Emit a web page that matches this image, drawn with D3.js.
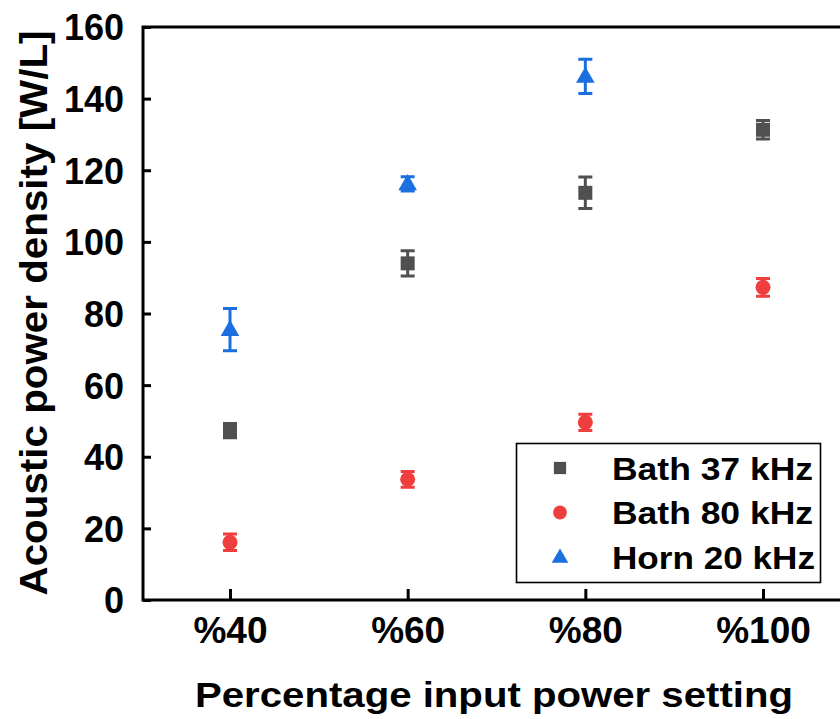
<!DOCTYPE html>
<html>
<head>
<meta charset="utf-8">
<script src="https://cdn.jsdelivr.net/npm/d3@7"></script>
<style>
  html, body { margin: 0; padding: 0; background: #fff; }
  svg { display: block; }
  text { font-family: "Liberation Sans", Arial, Helvetica, sans-serif; font-weight: bold; }
</style>
</head>
<body>
<svg id="chart" width="840" height="719"></svg>
<script>
// ---- data ----
const categories = ["%40", "%60", "%80", "%100"];
const yTicks = [0, 20, 40, 60, 80, 100, 120, 140, 160];

const bath37 = [47.3, 94.0, 113.7, 131.3];
const bath37Err = [2.0, 3.5, 4.4, 2.6];

const bath80 = [16.1, 33.7, 49.6, 87.3];
const bath80Err = [2.3, 2.2, 2.3, 2.5];

const horn20 = [75.5, 116.2, 146.2];
const horn20Err = [5.9, 2.0, 4.8];

const seriesNames = ["Bath 37 kHz", "Bath 80 kHz", "Horn 20 kHz"];
const seriesColors = ["#505050", "#ef3e3e", "#1c6fe0"];

const xTitle = "Percentage input power setting";
const yTitle = "Acoustic power density [W/L]";

// ---- build ----
const svg = d3.select("#chart");
const plotL = 143, plotT = 27, plotB = 600, plotR = 853;

const x = d3.scalePoint().domain(categories).range([230, 763]);
const y = d3.scaleLinear().domain([0, 160]).range([plotB, plotT]);

// frame
svg.append("path")
  .attr("d", `M${plotL},${plotB} L${plotL},${plotT} L${plotR},${plotT} L${plotR},${plotB} Z`)
  .attr("fill", "none")
  .attr("stroke", "#000")
  .attr("stroke-width", 3);

// y axis
const yAxis = d3.axisLeft(y).tickValues(yTicks).tickSizeInner(-8).tickSizeOuter(0).tickPadding(19);
const gy = svg.append("g").attr("transform", `translate(${plotL},0)`).call(yAxis);
gy.select(".domain").remove();
gy.selectAll(".tick line").attr("stroke", "#000").attr("stroke-width", 3);
gy.selectAll(".tick text").attr("font-size", 36).attr("fill", "#000").attr("dy", "0.36em");

// x axis
const xAxis = d3.axisBottom(x).tickSizeInner(-11).tickSizeOuter(0).tickPadding(17);
const gx = svg.append("g").attr("transform", `translate(0,${plotB})`).call(xAxis);
gx.select(".domain").remove();
gx.selectAll(".tick line").attr("stroke", "#000").attr("stroke-width", 3);
gx.selectAll(".tick text").attr("font-size", 37).attr("fill", "#000").attr("dy", "0.71em");

// axis titles
svg.append("text")
  .attr("x", 494).attr("y", 707)
  .attr("text-anchor", "middle")
  .attr("font-size", 35)
  .attr("textLength", 598)
  .attr("lengthAdjust", "spacingAndGlyphs")
  .attr("fill", "#000")
  .text(xTitle);

svg.append("text")
  .attr("transform", "translate(47,313) rotate(-90)")
  .attr("text-anchor", "middle")
  .attr("font-size", 38)
  .attr("textLength", 565)
  .attr("lengthAdjust", "spacingAndGlyphs")
  .attr("fill", "#000")
  .text(yTitle);

// markers
const sym = [d3.symbolSquare, d3.symbolCircle, d3.symbolTriangle];
const symSize = [196, 177, 150];
const allVals = [bath37, bath80, horn20];
const allErrs = [bath37Err, bath80Err, horn20Err];

allVals.forEach((vals, s) => {
  const g = svg.append("g").attr("class", "series-" + s);
  const pts = vals.map((v, i) => ({ c: categories[i], v, e: allErrs[s][i] }));
  const col = seriesColors[s];
  const cap = 7;
  // error bars
  g.selectAll("path.err").data(pts).enter().append("path")
    .attr("class", "err")
    .attr("d", d => {
      const cx = x(d.c), y1 = y(d.v + d.e), y0 = y(d.v - d.e);
      return `M${cx},${y1} L${cx},${y0} M${cx - cap},${y1} L${cx + cap},${y1} M${cx - cap},${y0} L${cx + cap},${y0}`;
    })
    .attr("fill", "none")
    .attr("stroke", col)
    .attr("stroke-width", 3);
  // points
  g.selectAll("path.pt").data(pts).enter().append("path")
    .attr("class", "pt")
    .attr("transform", d => `translate(${x(d.c)},${y(d.v) + (s === 2 ? 1 : 0)})`)
    .attr("d", d3.symbol().type(sym[s]).size(symSize[s]))
    .attr("fill", col);
});

// legend
const lg = svg.append("g");
lg.append("rect")
  .attr("x", 516.5).attr("y", 443.5).attr("width", 304).attr("height", 139)
  .attr("fill", "#fff").attr("stroke", "#000").attr("stroke-width", 1.6);
const legSize = [150, 150, 120];
const legLens = [201, 201, 203];
seriesNames.forEach((name, i) => {
  const cy = 468 + i * 44.5;
  lg.append("path")
    .attr("transform", `translate(560,${cy + (i === 2 ? 1 : 0)})`)
    .attr("d", d3.symbol().type(sym[i]).size(legSize[i]))
    .attr("fill", seriesColors[i]);
  lg.append("text")
    .attr("x", 612).attr("y", cy + 11.5)
    .attr("font-size", 32)
    .attr("textLength", legLens[i])
    .attr("lengthAdjust", "spacingAndGlyphs")
    .attr("fill", "#000")
    .text(name);
});
</script>
</body>
</html>
